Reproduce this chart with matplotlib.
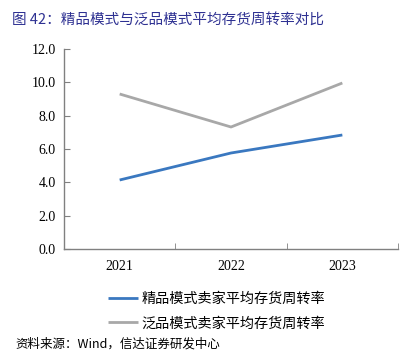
import matplotlib
matplotlib.use("Agg")
import matplotlib.pyplot as plt
from matplotlib.ticker import FixedLocator

years = ["2021", "2022", "2023"]
jingpin = [4.14, 5.76, 6.84]
fanpin = [9.30, 7.32, 9.96]
series_names = ["精品模式卖家平均存货周转率", "泛品模式卖家平均存货周转率"]
yticks = [0, 2, 4, 6, 8, 10, 12]

cjk = ["Noto Sans CJK SC", "DejaVu Sans"]
serif = ["Liberation Serif", "DejaVu Serif"]

fig = plt.figure(figsize=(4.19, 3.53), dpi=100)
ax = fig.add_axes([64/419, 1-249/353, (398-64)/419, (249-49)/353])

x = list(range(len(years)))
l1, = ax.plot(x, jingpin, color="#3A78C0", lw=2.0, solid_capstyle="butt")
l2, = ax.plot(x, fanpin, color="#A8A8A8", lw=2.0, solid_capstyle="butt")

ax.set_xlim(-0.5, 2.5)
ax.set_ylim(0, 12)
ax.set_yticks(yticks)
ax.set_yticklabels([f"{v:.1f}" for v in yticks], fontfamily=serif, fontsize=10)
ax.set_xticks(x)
ax.set_xticklabels(years, fontfamily=serif, fontsize=10)
ax.xaxis.set_minor_locator(FixedLocator([-0.5, 0.5, 1.5, 2.5]))
ax.tick_params(axis="x", which="major", length=0, pad=8)
ax.tick_params(axis="x", which="minor", direction="in", length=4, color="#808080")
ax.tick_params(axis="y", direction="in", length=4, color="#808080", pad=6)
for s in ["top", "right"]:
    ax.spines[s].set_visible(False)
for s in ["left", "bottom"]:
    ax.spines[s].set_color("#808080")
    ax.spines[s].set_linewidth(1.0)

fig.text(12/419, 1-20/353, "图 42：精品模式与泛品模式平均存货周转率对比",
         fontfamily=cjk, fontsize=10.5, color="#2E3192", va="center", ha="left")

leg = fig.legend([l1, l2], series_names, loc="upper left",
                 bbox_to_anchor=(95/419, 1-279/353), frameon=False,
                 prop={"family": cjk, "size": 10.2}, handlelength=2.1,
                 handletextpad=0.3, labelspacing=0.75)

fig.text(15/419, 1-351/353, "资料来源：Wind，信达证券研发中心",
         fontfamily=cjk, fontsize=9, style="italic", va="bottom", ha="left")

fig.savefig("out.png", dpi=100)
